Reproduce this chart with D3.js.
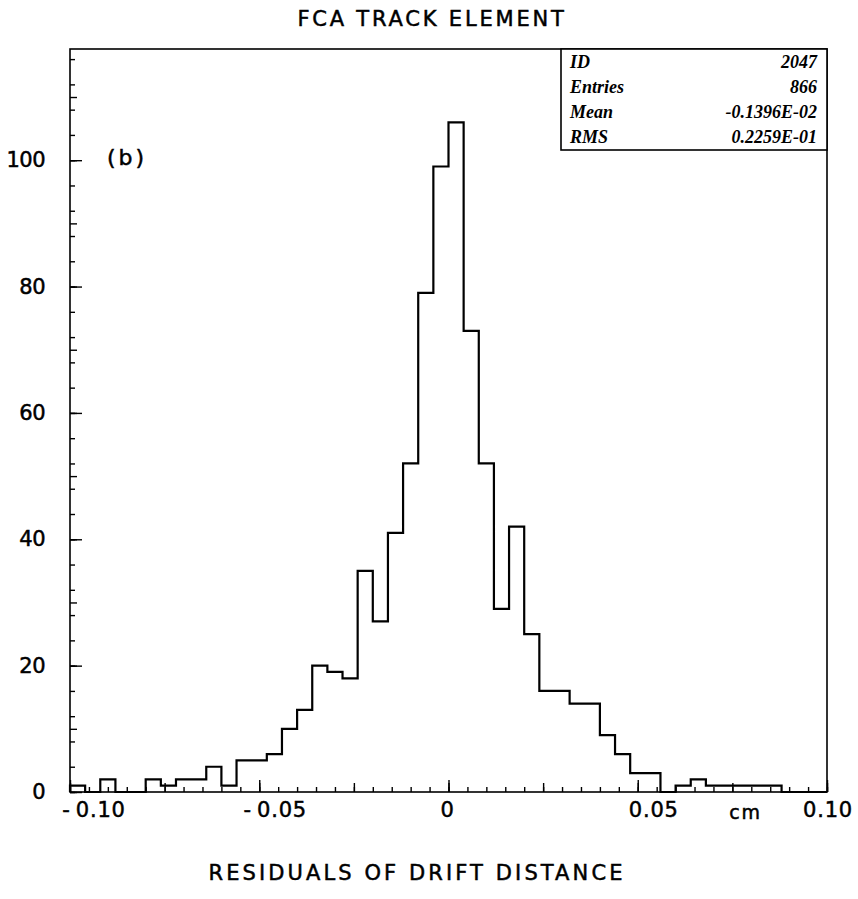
<!DOCTYPE html>
<html><head><meta charset="utf-8">
<script src="https://cdn.jsdelivr.net/npm/d3@7"></script>
<style>body{margin:0;background:#fff}svg{display:block}</style>
</head><body><svg id="c" width="858" height="899"></svg>
<script>
// ---- data ----
const binLow = -0.1;          // low edge of the histogram
const binWidth = 0.004;       // width of each bin (cm)
const counts = [1,0,2,0,0,2,1,2,2,4,1,5,5,6,10,13,20,19,18,35,27,41,52,79,99,106,73,52,29,42,25,16,16,14,14,9,6,3,3,0,1,2,1,1,1,1,1,0,0,0];
const xTickValues = [-0.10,-0.05,0,0.05,0.10];
const xTickLabels = ["-0.10","-0.05","0","0.05","0.10"];
const yTickValues = [0,20,40,60,80,100];
const yTickLabels = ["0","20","40","60","80","100"];
const statsLabels = ["ID","Entries","Mean","RMS"];
const statsValues = ["2047","866","-0.1396E-02","0.2259E-01"];
const titleText = "FCA TRACK ELEMENT";
const xTitle = "RESIDUALS OF DRIFT DISTANCE";
const unitText = "cm";
const panelTag = "(b)";

// ---- layout ----
const L = 70, R = 827, T = 49, B = 792;
const x = d3.scaleLinear().domain([-0.1, 0.1]).range([L, R]);
const y = d3.scaleLinear().domain([0, 117.6]).range([B, T]);
const svg = d3.select("#c");
const font = "'DejaVu Sans', sans-serif";
const heavy = sel => sel.attr("fill", "#000").attr("stroke", "#000").attr("stroke-width", 0.5);

// frame
svg.append("rect").attr("x", L).attr("y", T).attr("width", R - L).attr("height", B - T)
  .attr("fill", "none").attr("stroke", "#000").attr("stroke-width", 1.6);

// x ticks (inward)
function xAxis(vals, size) {
  const g = svg.append("g").attr("transform", `translate(0,${B})`)
    .call(d3.axisBottom(x).tickValues(vals).tickSize(-size).tickFormat(""));
  g.select(".domain").remove();
  g.selectAll("line").attr("stroke", "#000").attr("stroke-width", 1.4);
}
const xMinor = d3.range(-20, 21).map(i => i * 0.005);
const xMed = d3.range(-4, 5).map(i => i * 0.025);
xAxis(xMinor, 5);
xAxis(xMed, 9);
xAxis(xTickValues, 12);

function yAxis(vals, size) {
  const g = svg.append("g").attr("transform", `translate(${L},0)`)
    .call(d3.axisLeft(y).tickValues(vals).tickSize(-size).tickFormat(""));
  g.select(".domain").remove();
  g.selectAll("line").attr("stroke", "#000").attr("stroke-width", 1.4);
}
yAxis(d3.range(0, 117, 4), 5);
yAxis(d3.range(0, 117, 10), 7);
yAxis(yTickValues, 12);

// histogram outline
const pts = [[binLow, 0]];
counts.forEach((c, i) => {
  pts.push([binLow + i * binWidth, c]);
  pts.push([binLow + (i + 1) * binWidth, c]);
});
pts.push([binLow + counts.length * binWidth, 0]);
svg.append("path").attr("d", d3.line().x(d => x(d[0])).y(d => y(d[1]))(pts))
  .attr("fill", "none").attr("stroke", "#000").attr("stroke-width", 2.2);

// tick labels
const shift = v => v === xTickValues[0] ? 24 : (v === xTickValues[xTickValues.length - 1] ? 1 : (v === 0 ? -1 : 16));
const xl = svg.append("g").selectAll("text").data(xTickValues).join("text")
  .attr("x", d => x(d) + shift(d)).attr("y", B + 18)
  .attr("text-anchor", "middle").attr("dominant-baseline", "central")
  .attr("font-family", font).attr("font-size", 21).attr("letter-spacing", 0.8)
  .call(heavy);
xl.each(function (d, i) {
  const s = xTickLabels[i], t = d3.select(this);
  if (s.startsWith("-")) {
    t.append("tspan").attr("letter-spacing", 6).text("-");
    t.append("tspan").text(s.slice(1));
  } else t.text(s);
});
svg.append("g").selectAll("text").data(yTickValues).join("text")
  .attr("x", L - 25).attr("y", d => y(d))
  .attr("text-anchor", "end").attr("dominant-baseline", "central")
  .attr("font-family", font).attr("font-size", 21).attr("letter-spacing", -0.5)
  .call(heavy)
  .text((d, i) => yTickLabels[i]);
svg.append("text").attr("x", x(0.0785)).attr("y", B + 20)
  .attr("text-anchor", "middle").attr("dominant-baseline", "central")
  .attr("font-family", font).attr("font-size", 19).attr("letter-spacing", 2).call(heavy).text(unitText);

// titles
svg.append("text").attr("x", 432).attr("y", 19).attr("text-anchor", "middle").attr("dominant-baseline", "central")
  .attr("font-family", font).attr("font-size", 21).attr("letter-spacing", 2.8).call(heavy).text(titleText);
svg.append("text").attr("x", 417).attr("y", 873).attr("text-anchor", "middle").attr("dominant-baseline", "central")
  .attr("font-family", font).attr("font-size", 21).attr("letter-spacing", 3.1).call(heavy).text(xTitle);
svg.append("text").attr("x", 107).attr("y", 157).attr("dominant-baseline", "central")
  .attr("font-family", font).attr("font-size", 22).attr("letter-spacing", 3).call(heavy).text(panelTag);

// stats box
const bx = 561, by = T, bw = R - 561, bh = 101;
svg.append("rect").attr("x", bx).attr("y", by).attr("width", bw).attr("height", bh)
  .attr("fill", "#fff").attr("stroke", "#000").attr("stroke-width", 1.6);
const rowH = bh / statsLabels.length;
const sb = svg.append("g").attr("font-family", "'Liberation Serif', serif")
  .attr("font-size", 18).attr("font-weight", "bold").attr("font-style", "italic");
sb.selectAll("text.l").data(statsLabels).join("text").attr("class", "l")
  .attr("x", bx + 9).attr("y", (d, i) => by + rowH * (i + 0.5)).attr("dominant-baseline", "central").text(d => d);
sb.selectAll("text.v").data(statsValues).join("text").attr("class", "v")
  .attr("x", bx + bw - 10).attr("y", (d, i) => by + rowH * (i + 0.5)).attr("text-anchor", "end")
  .attr("dominant-baseline", "central").text(d => d);
</script></body></html>
